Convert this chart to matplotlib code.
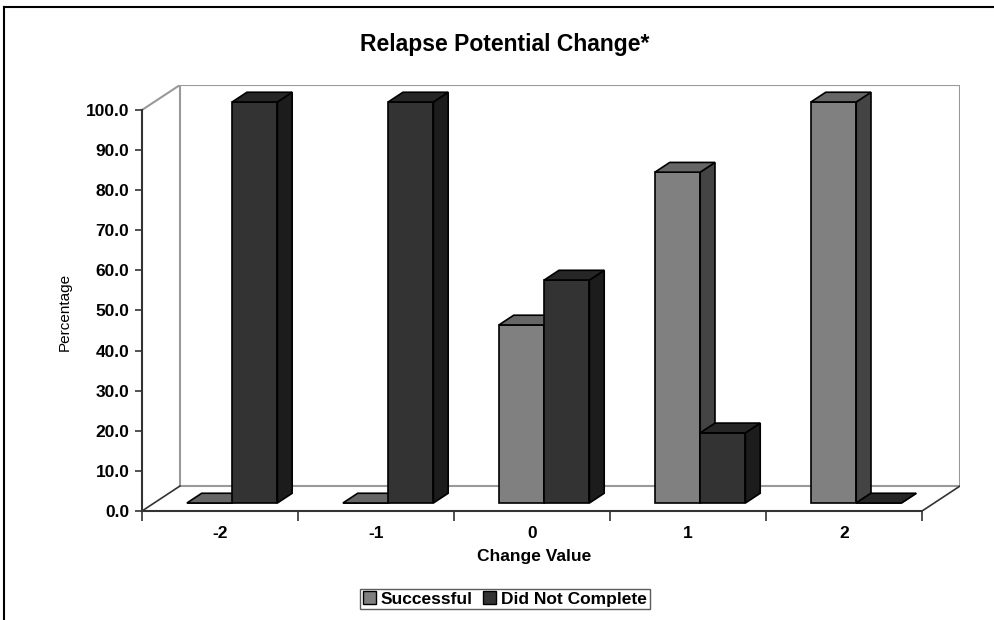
import matplotlib.pyplot as plt
import matplotlib.lines as mlines
from matplotlib.patches import Polygon, Patch

plt.rcParams['font.family'] = ['Liberation Sans', 'DejaVu Sans']

categories = ["-2", "-1", "0", "1", "2"]
successful = [0.0, 0.0, 44.4, 82.5, 100.0]
did_not_complete = [100.0, 100.0, 55.6, 17.5, 0.0]
yticks = [0, 10, 20, 30, 40, 50, 60, 70, 80, 90, 100]

# pseudo-3d depth of the floor, in data units
DX = 0.243
DY = 6.23
F0, F1 = 0.32, 0.71   # front / back of the bars, as a fraction of the depth
W = 0.29              # bar width

fig = plt.figure(figsize=(9.95, 6.2), dpi=100)
ax = fig.add_axes([142 / 995, 1 - 511 / 620, 818 / 995, 426 / 620])
ax.set_xlim(-0.5, len(categories) - 0.5 + DX)
ax.set_ylim(0, 100 + DY)
ax.patch.set_visible(False)

# walls and floor
wall = "#999999"
x_l, x_r = -0.5, len(categories) - 0.5
ax.plot([x_l + DX, x_r + DX, x_r + DX, x_l + DX, x_l + DX],
        [DY, DY, 100 + DY, 100 + DY, DY], color=wall, lw=1.5, zorder=1)
ax.plot([x_l, x_l + DX], [100, 100 + DY], color=wall, lw=1.5, zorder=1)
ax.plot([x_l, x_l + DX], [0, DY], color="#333333", lw=1.2, zorder=1)
ax.plot([x_r, x_r + DX], [0, DY], color="#333333", lw=1.2, zorder=1)


def bar3d(x0, x1, h, front, top, side):
    ax0, ax1 = x0 + F0 * DX, x1 + F0 * DX
    bx0, bx1 = x0 + F1 * DX, x1 + F1 * DX
    y0, y1 = F0 * DY, F1 * DY
    faces = [
        ([(ax0, y0), (ax1, y0), (ax1, h + y0), (ax0, h + y0)], front),
        ([(ax1, y0), (bx1, y1), (bx1, h + y1), (ax1, h + y0)], side),
        ([(ax0, h + y0), (ax1, h + y0), (bx1, h + y1), (bx0, h + y1)], top),
    ]
    for pts, c in faces:
        ax.add_patch(Polygon(pts, closed=True, facecolor=c, edgecolor="black",
                             lw=1.2, joinstyle="miter", zorder=3))


for i in range(len(categories)):
    bar3d(i - W, i, successful[i], "#808080", "#666666", "#444444")
    bar3d(i, i + W, did_not_complete[i], "#333333", "#262626", "#1c1c1c")

# axes
for s in ["top", "right"]:
    ax.spines[s].set_visible(False)
for s in ["left", "bottom"]:
    ax.spines[s].set_color("#333333")
    ax.spines[s].set_linewidth(1.5)
ax.spines["left"].set_bounds(0, 100)
ax.spines["bottom"].set_bounds(x_l, x_r)

ax.set_yticks(yticks)
ax.set_yticklabels([f"{v:.1f}" for v in yticks], fontsize=12.5, fontweight="bold")
ax.tick_params(axis="y", direction="out", length=5, width=1.2, color="#333333", pad=4)

ax.set_xticks([i - 0.5 for i in range(len(categories) + 1)])
ax.set_xticklabels([])
ax.tick_params(axis="x", which="major", direction="out", length=7, width=1.2, color="#333333")
ax.set_xticks(range(len(categories)), minor=True)
ax.set_xticklabels(categories, minor=True, fontsize=12.5, fontweight="bold")
ax.tick_params(axis="x", which="minor", length=0, pad=11)

fig.text(505 / 995, 1 - 45 / 620, "Relapse Potential Change*", ha="center", va="center",
         fontsize=16.5, fontweight="bold")
fig.text(534 / 995, 1 - 556 / 620, "Change Value", ha="center", va="center",
         fontsize=12.5, fontweight="bold")
fig.text(65 / 995, 1 - 312 / 620, "Percentage", ha="center", va="center",
         rotation=90, fontsize=11)

handles = [Patch(facecolor="#808080", edgecolor="black", label="Successful"),
           Patch(facecolor="#333333", edgecolor="black", label="Did Not Complete")]
leg = fig.legend(handles=handles, loc="center", bbox_to_anchor=(505 / 995, 1 - 599 / 620),
                 ncol=2, prop={"weight": "bold", "size": 12.5},
                 handlelength=0.75, handleheight=0.75, handletextpad=0.3,
                 columnspacing=0.6, borderpad=0.15, borderaxespad=0, fancybox=False)
leg.get_frame().set_edgecolor("#333333")
leg.get_frame().set_linewidth(1.0)

# outer border (left and top only)
fig.lines.append(mlines.Line2D([4 / 995, 4 / 995], [0, 1 - 7 / 620], color="black", lw=1.5,
                               transform=fig.transFigure))
fig.lines.append(mlines.Line2D([4 / 995, 1], [1 - 7 / 620, 1 - 7 / 620], color="black", lw=1.5,
                               transform=fig.transFigure))

plt.savefig("out.png", dpi=100)
